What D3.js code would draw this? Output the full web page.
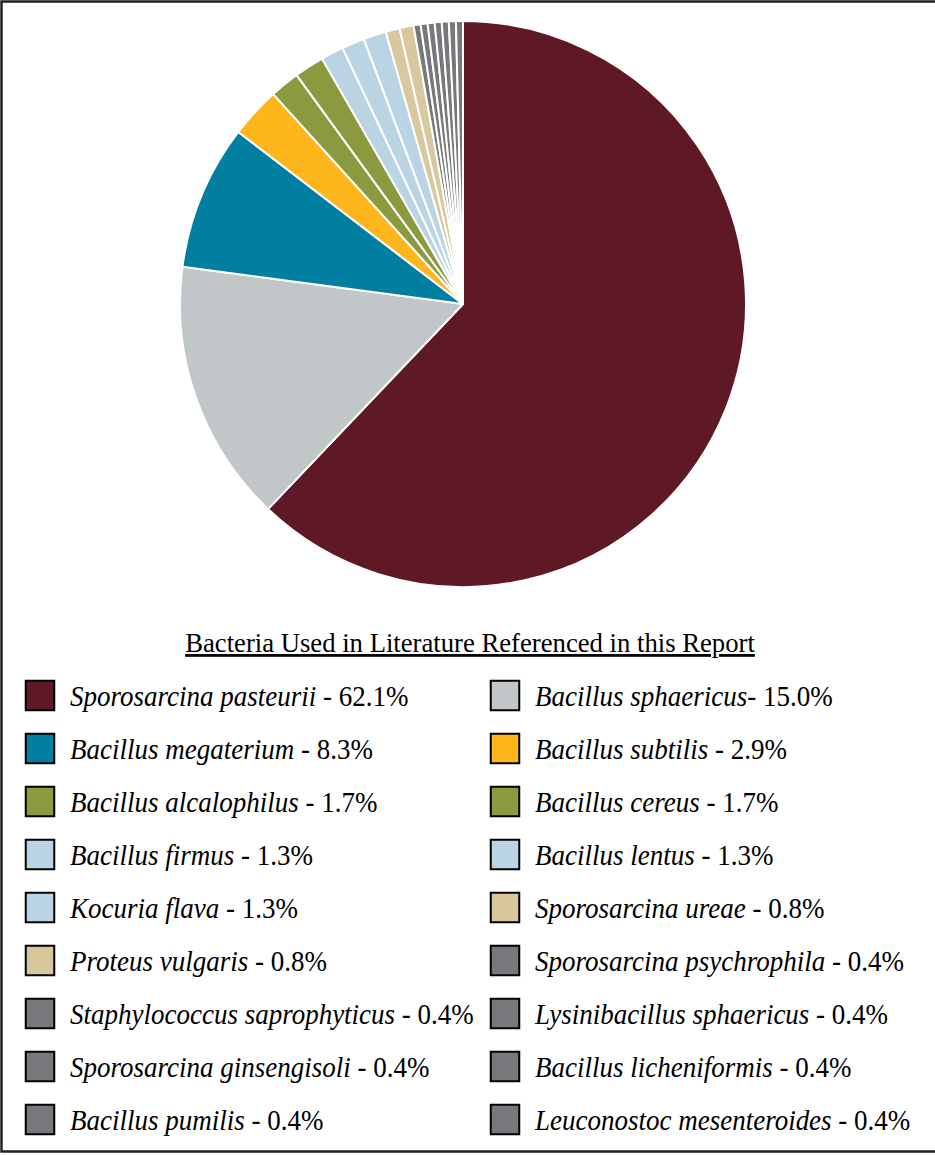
<!DOCTYPE html>
<html>
<head>
<meta charset="utf-8">
<script src="https://cdn.jsdelivr.net/npm/d3@7"></script>
<style>
  html, body { margin: 0; padding: 0; background: #fff; }
  svg { display: block; }
</style>
</head>
<body>
<svg id="chart" width="935" height="1155"></svg>
<script>
// Species shares (percent of referenced studies)
const species = [
  "Sporosarcina pasteurii", "Bacillus sphaericus", "Bacillus megaterium", "Bacillus subtilis",
  "Bacillus alcalophilus", "Bacillus cereus", "Bacillus firmus", "Bacillus lentus",
  "Kocuria flava", "Sporosarcina ureae", "Proteus vulgaris", "Sporosarcina psychrophila",
  "Staphylococcus saprophyticus", "Lysinibacillus sphaericus", "Sporosarcina ginsengisoli",
  "Bacillus licheniformis", "Bacillus pumilis", "Leuconostoc mesenteroides"
];
const shares = [62.1, 15.0, 8.3, 2.9, 1.7, 1.7, 1.3, 1.3, 1.3, 0.8, 0.8, 0.4, 0.4, 0.4, 0.4, 0.4, 0.4, 0.4];
const sliceColors = [
  "#5E1826", "#C1C6C8", "#007FA0", "#FDB71D", "#8B9A3F", "#8B9A3F", "#BBD4E3", "#BBD4E3",
  "#BBD4E3", "#D9C79D", "#D9C79D", "#76787B", "#76787B", "#76787B", "#76787B", "#76787B",
  "#76787B", "#76787B"
];
const title = "Bacteria Used in Literature Referenced in this Report";

const svg = d3.select("#chart");

// outer frame
svg.append("rect")
  .attr("x", 1.5).attr("y", 1.5).attr("width", 945).attr("height", 1150)
  .attr("fill", "none").attr("stroke", "#222").attr("stroke-width", 2.5);

const data = species.map((name, i) => ({ name, value: shares[i], color: sliceColors[i] }));

// pie: starts at 12 o'clock, runs clockwise, in list order
const pie = d3.pie().value(d => d.value).sort(null);
const arc = d3.arc().innerRadius(0).outerRadius(283);

svg.append("g")
  .attr("transform", "translate(463,304)")
  .selectAll("path")
  .data(pie(data))
  .join("path")
  .attr("d", arc)
  .attr("fill", d => d.data.color)
  .attr("stroke", "#fff")
  .attr("stroke-width", 2)
  .attr("stroke-linejoin", "round");

// legend title, underlined
svg.append("text")
  .attr("transform", "translate(470,652) scale(1,1.04)")
  .attr("text-anchor", "middle")
  .attr("font-family", "'Liberation Serif', 'Times New Roman', serif")
  .attr("font-size", 26.7)
  .attr("text-decoration", "underline")
  .attr("fill", "#000")
  .text(title);

// legend: two columns, filled row by row
const colX = [25, 490];
const rowY = d3.range(9).map(r => 680 + r * 53);

const items = svg.append("g").selectAll("g")
  .data(data)
  .join("g")
  .attr("transform", (d, i) => `translate(${colX[i % 2]},${rowY[Math.floor(i / 2)]})`);

items.append("rect")
  .attr("x", 0.75).attr("y", 0.75).attr("width", 28.5).attr("height", 29.5)
  .attr("fill", d => d.color)
  .attr("stroke", "#000").attr("stroke-width", 2);

// slightly condensed serif labels
const label = items.append("text")
  .attr("transform", "translate(45,26) scale(1,1.1)")
  .attr("font-family", "'Liberation Serif', 'Times New Roman', serif")
  .attr("font-size", 27)
  .attr("fill", "#000");

label.append("tspan")
  .attr("font-style", "italic")
  .text(d => d.name);
label.append("tspan")
  .text(d => (d.name === "Bacillus sphaericus" ? "- " : " - ") + d3.format(".1f")(d.value) + "%");
</script>
</body>
</html>
